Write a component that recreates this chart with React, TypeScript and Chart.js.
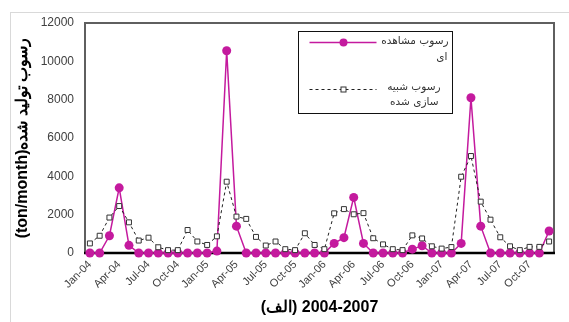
import React, { useEffect, useRef } from 'react';
import { Chart, registerables } from 'chart.js';

Chart.register(...registerables);

const categories = [
  'Jan-04', 'Feb-04', 'Mar-04', 'Apr-04', 'May-04', 'Jun-04', 'Jul-04', 'Aug-04', 'Sep-04', 'Oct-04', 'Nov-04', 'Dec-04',
  'Jan-05', 'Feb-05', 'Mar-05', 'Apr-05', 'May-05', 'Jun-05', 'Jul-05', 'Aug-05', 'Sep-05', 'Oct-05', 'Nov-05', 'Dec-05',
  'Jan-06', 'Feb-06', 'Mar-06', 'Apr-06', 'May-06', 'Jun-06', 'Jul-06', 'Aug-06', 'Sep-06', 'Oct-06', 'Nov-06', 'Dec-06',
  'Jan-07', 'Feb-07', 'Mar-07', 'Apr-07', 'May-07', 'Jun-07', 'Jul-07', 'Aug-07', 'Sep-07', 'Oct-07', 'Nov-07', 'Dec-07',
];

const observed = [
  0, 0, 900, 3400, 400, 0, 0, 0, 0, 0, 0, 0,
  0, 100, 10550, 1400, 0, 0, 0, 0, 0, 0, 0, 0,
  0, 500, 800, 2900, 500, 0, 0, 0, 0, 200, 380, 0,
  0, 0, 500, 8100, 1400, 0, 0, 0, 0, 0, 0, 1150,
];

const simulated = [
  500, 900, 1850, 2450, 1600, 650, 800, 300, 150, 150, 1200, 600,
  420, 870, 3720, 1900, 1780, 840, 390, 600, 200, 150, 1030, 420,
  200, 2070, 2290, 2020, 2080, 770, 450, 200, 150, 920, 760, 350,
  230, 310, 3980, 5060, 2680, 1740, 820, 350, 150, 320, 320, 600,
];

const yTickValues = [0, 2000, 4000, 6000, 8000, 10000, 12000];
const xLabelEvery = 3;

const seriesNames = ['رسوب مشاهده ای', 'رسوب شبیه سازی شده'];
const legendLines = [
  ['رسوب مشاهده', 'ای'],
  ['رسوب شبیه', 'سازی شده'],
];
const xTitle = '(الف) \u200E2004-2007';
const yTitle = '(ton/month)رسوب تولید شده';

const observedColor = '#c41a9e';
const simulatedColor = '#1f1f1f';

const framePlugin = {
  id: 'frameAndLegend',
  beforeDatasetsDraw(chart: any) {
    const { ctx, chartArea: a } = chart;
    ctx.save();
    ctx.strokeStyle = '#5f5f5f';
    ctx.lineWidth = 2;
    ctx.beginPath();
    ctx.moveTo(a.left, a.bottom);
    ctx.lineTo(a.left, a.top);
    ctx.lineTo(a.right, a.top);
    ctx.lineTo(a.right, a.bottom);
    ctx.stroke();
    ctx.strokeStyle = '#000';
    ctx.lineWidth = 2.5;
    ctx.beginPath();
    ctx.moveTo(a.left - 1, a.bottom);
    ctx.lineTo(a.right + 1, a.bottom);
    ctx.stroke();
    ctx.restore();
  },
  afterDatasetsDraw(chart: any) {
    const { ctx, chartArea: a } = chart;
    const x0 = a.left + 213.5;
    const y0 = a.top + 8.5;
    const w = 154;
    const h = 82;
    ctx.save();
    ctx.fillStyle = '#fff';
    ctx.fillRect(x0, y0, w, h);
    ctx.strokeStyle = '#111';
    ctx.lineWidth = 1;
    ctx.strokeRect(x0, y0, w, h);

    const lineX1 = x0 + 11;
    const lineX2 = x0 + 78;
    const markX = x0 + 45;

    // entry 1: observed
    const r1 = y0 + 11;
    ctx.strokeStyle = observedColor;
    ctx.lineWidth = 1.5;
    ctx.beginPath();
    ctx.moveTo(lineX1, r1);
    ctx.lineTo(lineX2, r1);
    ctx.stroke();
    ctx.fillStyle = observedColor;
    ctx.beginPath();
    ctx.arc(markX, r1, 4, 0, Math.PI * 2);
    ctx.fill();

    // entry 2: simulated
    const r2 = y0 + 58;
    ctx.strokeStyle = simulatedColor;
    ctx.lineWidth = 1;
    ctx.setLineDash([3, 3]);
    ctx.beginPath();
    ctx.moveTo(lineX1, r2);
    ctx.lineTo(lineX2, r2);
    ctx.stroke();
    ctx.setLineDash([]);
    ctx.fillStyle = '#fff';
    ctx.fillRect(markX - 2.5, r2 - 2.5, 5, 5);
    ctx.strokeStyle = '#333';
    ctx.strokeRect(markX - 2.5, r2 - 2.5, 5, 5);

    ctx.fillStyle = '#333';
    ctx.font = "10.5px 'DejaVu Sans'";
    ctx.textAlign = 'right';
    ctx.textBaseline = 'middle';
    (ctx as any).direction = 'rtl';
    const rights = [[x0 + 150, x0 + 149], [x0 + 142, x0 + 140]];
    const ys = [[y0 + 10, y0 + 26], [y0 + 56, y0 + 71]];
    legendLines.forEach((lines, i) => {
      lines.forEach((t, j) => {
        ctx.fillText(t, rights[i][j], ys[i][j]);
      });
    });
    ctx.restore();
  },
};

export default function App() {
  const ref = useRef<HTMLCanvasElement>(null);

  useEffect(() => {
    const chart = new Chart(ref.current as HTMLCanvasElement, {
      type: 'line',
      data: {
        labels: categories,
        datasets: [
          {
            label: seriesNames[0],
            data: observed,
            borderColor: observedColor,
            backgroundColor: observedColor,
            borderWidth: 1.5,
            pointRadius: 4.5,
            pointBackgroundColor: observedColor,
            pointBorderWidth: 0,
            tension: 0,
            order: 2,
            clip: false,
          },
          {
            label: seriesNames[1],
            data: simulated,
            borderColor: simulatedColor,
            borderWidth: 1,
            borderDash: [3, 3],
            pointStyle: 'rect',
            pointRadius: 3.5,
            pointBackgroundColor: '#ffffff',
            pointBorderColor: '#333333',
            pointBorderWidth: 1,
            tension: 0,
            order: 1,
            clip: false,
          },
        ],
      },
      options: {
        responsive: false,
        animation: false,
        devicePixelRatio: 1,
        layout: { padding: { top: 23, right: 15, left: 0, bottom: 0 } },
        plugins: {
          legend: { display: false },
          tooltip: { enabled: false },
        },
        scales: {
          x: {
            type: 'category',
            offset: true,
            grid: { display: false, drawTicks: false },
            border: { display: false },
            afterFit: (scale: any) => {
              scale.height = 69;
            },
            ticks: {
              autoSkip: false,
              minRotation: 45,
              maxRotation: 45,
              padding: 5,
              color: '#404040',
              font: { family: "'Liberation Sans'", size: 11 },
              callback: function (this: any, value: any, index: number) {
                return index % xLabelEvery === 0 ? this.getLabelForValue(value) : null;
              },
            },
            title: {
              display: true,
              text: xTitle,
              color: '#000',
              font: { family: "'Liberation Sans'", size: 16, weight: 'bold' },
              padding: { top: 0, bottom: 5 },
            },
          },
          y: {
            min: 0,
            max: 12000,
            grid: { display: false, drawTicks: false },
            border: { display: false },
            afterFit: (scale: any) => {
              scale.width = 85;
            },
            afterBuildTicks: (scale: any) => {
              scale.ticks = yTickValues.map((v) => ({ value: v }));
            },
            ticks: {
              padding: 11,
              color: '#404040',
              font: { family: "'Liberation Sans'", size: 12 },
              callback: (value: any) => String(value),
            },
            title: {
              display: true,
              text: yTitle,
              color: '#000',
              font: { family: "'Liberation Sans'", size: 16, weight: 'bold' },
              padding: { top: 13, bottom: 0 },
            },
          },
        },
      },
      plugins: [framePlugin],
    } as any);
    return () => chart.destroy();
  }, []);

  return (
    <div
      style={{
        position: 'fixed',
        left: 0,
        top: 0,
        width: 569,
        height: 322,
        overflow: 'hidden',
        background: '#ffffff',
      }}
    >
      <div
        style={{
          position: 'absolute',
          left: 10,
          top: 12,
          width: 700,
          height: 400,
          border: '1px solid #d9d9d9',
        }}
      />
      <canvas ref={ref} width={569} height={322} style={{ position: 'absolute', left: 0, top: 0 }} />
    </div>
  );
}
